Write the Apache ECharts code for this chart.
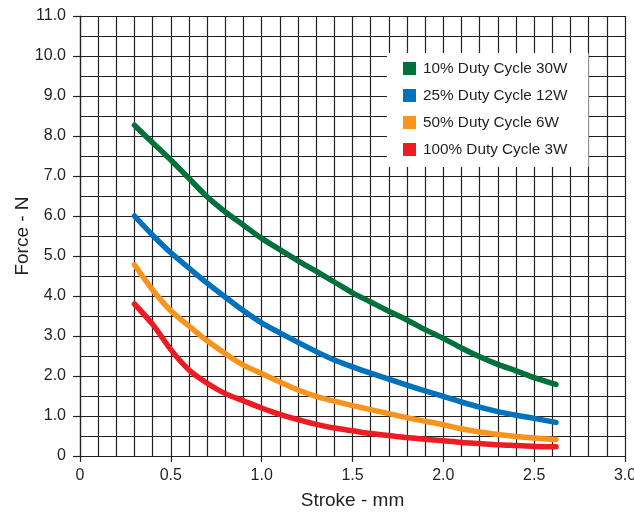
<!DOCTYPE html>
<html>
<head>
<meta charset="utf-8">
<script src="https://cdn.jsdelivr.net/npm/echarts@6/dist/echarts.min.js"></script>
<style>
html,body{margin:0;padding:0;background:#fff;}
#chart{width:634px;height:513px;}
</style>
</head>
<body>
<div id="chart"></div>
<script>
// Stroke (mm) values for each series
const stroke = [0.3, 0.4, 0.5, 0.6, 0.7, 0.8, 0.9, 1.0, 1.1, 1.2, 1.3, 1.4, 1.5, 1.6, 1.7, 1.8, 1.9, 2.0, 2.1, 2.2, 2.3, 2.4, 2.5, 2.62];
// Force (N) values
const force10 = [8.27, 7.83, 7.40, 6.94, 6.48, 6.10, 5.77, 5.44, 5.16, 4.88, 4.62, 4.35, 4.08, 3.85, 3.62, 3.40, 3.16, 2.94, 2.70, 2.48, 2.29, 2.13, 1.96, 1.79];
const force25 = [6.00, 5.52, 5.08, 4.70, 4.32, 3.97, 3.63, 3.33, 3.08, 2.84, 2.61, 2.40, 2.23, 2.07, 1.92, 1.77, 1.63, 1.49, 1.35, 1.22, 1.11, 1.02, 0.94, 0.84];
const force50 = [4.78, 4.15, 3.63, 3.25, 2.88, 2.56, 2.27, 2.06, 1.85, 1.65, 1.49, 1.37, 1.26, 1.16, 1.06, 0.96, 0.87, 0.78, 0.68, 0.60, 0.54, 0.49, 0.45, 0.41];
const force100 = [3.80, 3.29, 2.66, 2.15, 1.82, 1.56, 1.38, 1.20, 1.04, 0.91, 0.79, 0.70, 0.63, 0.56, 0.51, 0.46, 0.42, 0.38, 0.34, 0.31, 0.28, 0.26, 0.24, 0.23];
const seriesNames = ['10% Duty Cycle 30W', '25% Duty Cycle 12W', '50% Duty Cycle 6W', '100% Duty Cycle 3W'];
const seriesColors = ['#00703c', '#0072bc', '#f7941d', '#ed1c24'];
const xTitle = 'Stroke - mm';
const yTitle = 'Force - N';

const font = '"Liberation Sans", Arial, sans-serif';
const ink = '#231f20';
const gridCol = '#231f20';

function pairs(ys) { return stroke.map((x, i) => [x, ys[i]]); }
const allData = [force10, force25, force50, force100];

const chart = echarts.init(document.getElementById('chart'), null, {renderer: 'canvas'});
chart.setOption({
  animation: false,
  backgroundColor: '#ffffff',
  grid: {left: 80, right: 9, top: 16, bottom: 57, containLabel: false, outerBoundsMode: 'none'},
  legend: {
    orient: 'vertical',
    left: 387,
    top: 53,
    backgroundColor: '#ffffff',
    padding: [8, 21, 10, 16],
    itemGap: 12,
    itemWidth: 13,
    itemHeight: 13,
    icon: 'rect',
    textStyle: {fontFamily: font, fontSize: 15.3, color: ink, padding: [0, 0, 0, 2]},
    data: seriesNames
  },
  xAxis: {
    type: 'value',
    min: 0, max: 3, interval: 0.5,
    name: xTitle,
    nameLocation: 'middle',
    nameGap: 35,
    nameMoveOverlap: false,
    nameTextStyle: {fontFamily: font, fontSize: 19, color: ink},
    axisLine: {show: true, lineStyle: {color: gridCol, width: 1.2}},
    axisTick: {show: true, inside: false, length: 6, lineStyle: {color: gridCol, width: 1.2}},
    minorTick: {show: false, splitNumber: 5},
    axisLabel: {fontFamily: font, fontSize: 16, color: ink, margin: 12,
      formatter: v => v === 0 ? '0' : v.toFixed(1)},
    splitLine: {show: true, lineStyle: {color: gridCol, width: 1.2}},
    minorSplitLine: {show: true, lineStyle: {color: gridCol, width: 1.2}}
  },
  yAxis: {
    type: 'value',
    min: 0, max: 11, interval: 1,
    name: yTitle,
    nameLocation: 'middle',
    nameGap: 48,
    nameMoveOverlap: false,
    nameTextStyle: {fontFamily: font, fontSize: 19, color: ink},
    axisLine: {show: true, lineStyle: {color: gridCol, width: 1.2}},
    axisTick: {show: true, inside: false, length: 7, lineStyle: {color: gridCol, width: 1.2}},
    minorTick: {show: false, splitNumber: 2},
    axisLabel: {fontFamily: font, fontSize: 16, color: ink, margin: 14,
      formatter: v => v === 0 ? '0' : v.toFixed(1)},
    splitLine: {show: true, lineStyle: {color: gridCol, width: 1.2}},
    minorSplitLine: {show: true, lineStyle: {color: gridCol, width: 1.2}}
  },
  series: seriesNames.map((name, i) => ({
    name: name,
    type: 'line',
    data: pairs(allData[i]),
    smooth: 0.3,
    showSymbol: false,
    symbol: 'none',
    color: seriesColors[i],
    lineStyle: {width: 5.5, color: seriesColors[i], cap: 'round', join: 'round'},
    z: 3
  }))
});
</script>
</body>
</html>
